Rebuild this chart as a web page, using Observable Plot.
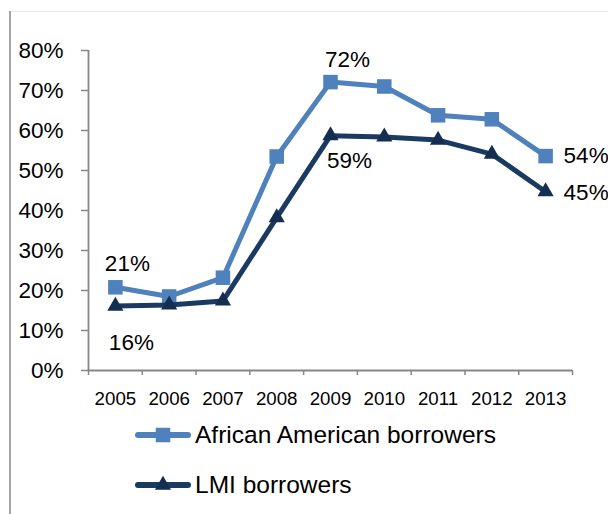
<!DOCTYPE html>
<html><head><meta charset="utf-8">
<script src="https://cdn.jsdelivr.net/npm/d3@7"></script>
<script src="https://cdn.jsdelivr.net/npm/@observablehq/plot@0.6"></script>
<style>
body{margin:0;background:#fff;}
#wrap{position:relative;width:608px;height:514px;overflow:hidden;font-family:"Liberation Sans", Arial, sans-serif;background:#fff;}
#bl{position:absolute;left:9px;top:11px;width:2px;height:503px;background:#a5a5a5;}
#bt{position:absolute;left:10px;top:11px;right:0;height:1px;background:#e8e8e8;}
#chart{position:absolute;left:0;top:0;}
.leg{position:absolute;left:135px;display:flex;align-items:center;font-size:24.5px;line-height:30px;color:#000;}
.leg svg{margin-right:4px;}
</style></head><body>
<div id="wrap"><div id="bt"></div><div id="bl"></div><div id="chart"></div><div id="legend"></div></div>
<script>
const years = [2005, 2006, 2007, 2008, 2009, 2010, 2011, 2012, 2013];
const africanAmerican = [20.8, 18.5, 23.2, 53.5, 72.1, 71.0, 63.8, 62.8, 53.6];
const lmiBorrowers = [16.1, 16.4, 17.4, 38.2, 58.7, 58.4, 57.6, 54.1, 44.7];
const seriesNames = ["African American borrowers", "LMI borrowers"];
const yTicks = [0, 10, 20, 30, 40, 50, 60, 70, 80];
const labeledYears = [2005, 2009, 2013];

const colors = {aa: "#4F81BD", lmi: "#1B3A62", lmiMarker: "#132E50"};
const gray = "#868686";
const font = "'Liberation Sans', Arial, sans-serif";

const aa = years.map((year, i) => ({year, value: africanAmerican[i], series: seriesNames[0]}));
const lmi = years.map((year, i) => ({year, value: lmiBorrowers[i], series: seriesNames[1]}));
const boundaries = [...years.map(y => y - 0.5), years[years.length - 1] + 0.5];

const fmt = d => Math.round(d.value) + "%";
function label(data, year, opts) {
  return Plot.text(data.filter(d => d.year === year), {
    x: "year", y: "value", text: fmt, fontSize: 22.5, fill: "#000", ...opts
  });
}

const chart = Plot.plot({
  width: 608,
  height: 420,
  marginLeft: 88,
  marginRight: 36,
  marginTop: 50,
  marginBottom: 50,
  style: {fontFamily: font, background: "transparent", overflow: "visible"},
  x: {domain: [boundaries[0], boundaries[boundaries.length - 1]], axis: null},
  y: {domain: [0, 80], axis: null},
  marks: [
    Plot.axisY(yTicks, {label: null, tickSize: 7, text: null, stroke: gray, strokeWidth: 1.5}),
    Plot.axisY(yTicks, {label: null, tickSize: 0, tickPadding: 25, tickFormat: d => d + "%", fontSize: 22.5, fill: "#000"}),
    Plot.axisX(boundaries, {label: null, tickSize: 5, text: null, stroke: gray, strokeWidth: 1.5}),
    Plot.axisX(years, {label: null, tickSize: 0, tickPadding: 21, tickFormat: d => String(d), fontSize: 18.7, fill: "#000"}),
    Plot.ruleX([boundaries[0]], {stroke: gray, strokeWidth: 1.8}),
    Plot.ruleY([0], {stroke: gray, strokeWidth: 1.8}),
    Plot.line(aa, {x: "year", y: "value", stroke: colors.aa, strokeWidth: 5}),
    Plot.dot(aa, {x: "year", y: "value", symbol: "square", r: 8.2, fill: colors.aa}),
    Plot.line(lmi, {x: "year", y: "value", stroke: colors.lmi, strokeWidth: 5}),
    Plot.dot(lmi, {x: "year", y: "value", symbol: "triangle", r: 6, fill: colors.lmiMarker}),
    label(aa, labeledYears[0], {dx: 12, dy: -24}),
    label(aa, labeledYears[1], {dx: 17, dy: -22}),
    label(aa, labeledYears[2], {dx: 18, dy: 0, textAnchor: "start"}),
    label(lmi, labeledYears[0], {dx: 16, dy: 37}),
    label(lmi, labeledYears[1], {dx: 19, dy: 25}),
    label(lmi, labeledYears[2], {dx: 18, dy: 1, textAnchor: "start"})
  ]
});
document.getElementById("chart").appendChild(chart);

// legend
const legend = document.getElementById("legend");
const legendItems = [
  {name: seriesNames[0], color: colors.aa, marker: "square", top: 420},
  {name: seriesNames[1], color: colors.lmi, marker: "triangle", top: 470}
];
legendItems.forEach(item => {
  const row = document.createElement("div");
  row.className = "leg";
  row.style.top = item.top + "px";
  const ns = "http://www.w3.org/2000/svg";
  const svg = document.createElementNS(ns, "svg");
  svg.setAttribute("width", 56); svg.setAttribute("height", 20);
  const ln = document.createElementNS(ns, "line");
  ln.setAttribute("x1", 3); ln.setAttribute("x2", 53); ln.setAttribute("y1", 10); ln.setAttribute("y2", 10);
  ln.setAttribute("stroke", item.color); ln.setAttribute("stroke-width", 6); ln.setAttribute("stroke-linecap", "round");
  svg.appendChild(ln);
  const m = document.createElementNS(ns, "path");
  const sym = item.marker === "square" ? d3.symbolSquare : d3.symbolTriangle;
  const size = item.marker === "square" ? 8.2 * 8.2 * Math.PI : 6 * 6 * Math.PI;
  m.setAttribute("d", d3.symbol(sym, size)());
  m.setAttribute("transform", "translate(28,10)");
  m.setAttribute("fill", item.marker === "square" ? colors.aa : colors.lmiMarker);
  svg.appendChild(m);
  row.appendChild(svg);
  const span = document.createElement("span");
  span.textContent = item.name;
  row.appendChild(span);
  legend.appendChild(row);
});
</script>
</body></html>
